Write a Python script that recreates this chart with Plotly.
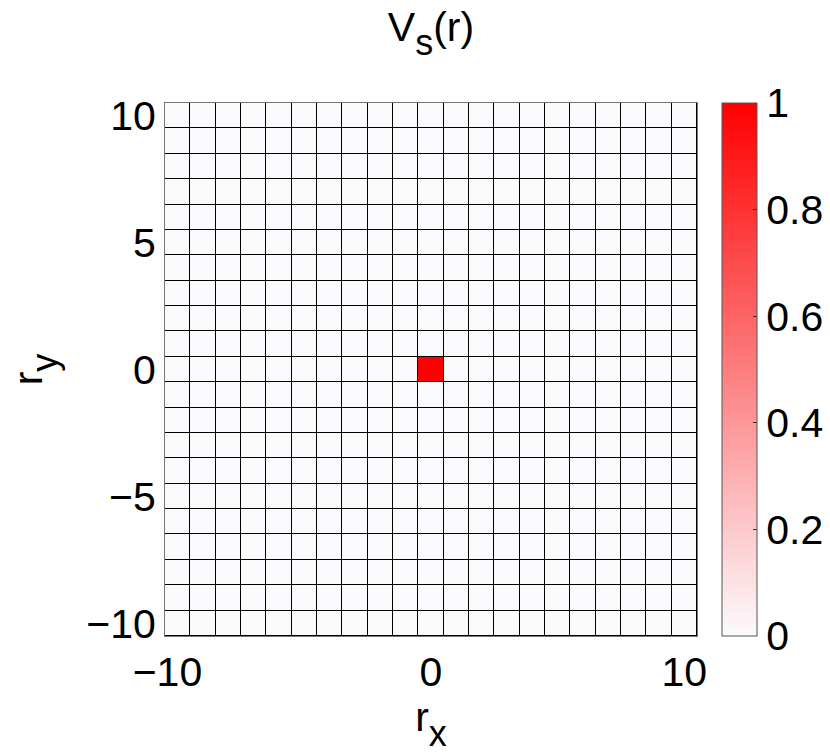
import plotly.graph_objects as go

# Data
rx = list(range(-10, 11))
ry = list(range(-10, 11))
peak_x, peak_y, peak_val = 0, 0, 1.0
Vs = [[peak_val if (x == peak_x and y == peak_y) else 0.0 for x in rx] for y in ry]
xticks = [-10, 0, 10]
yticks = [-10, -5, 0, 5, 10]
cticks = [0, 0.2, 0.4, 0.6, 0.8, 1]

FONT = "Liberation Sans, Arial, Helvetica, sans-serif"
FS = 41
SUB = "<sub><sub><span style='font-size:36px'>{}</span></sub></sub>"


def xlabel(v):
    # negative labels hang the minus sign to the left, as in the reference
    return ("\u2212" + str(-v) + "\u2002") if v < 0 else str(v)


fig = go.Figure(go.Heatmap(
    x=rx, y=ry, z=Vs,
    zmin=0, zmax=1,
    colorscale=[[0, "#FBFBFE"], [1, "#FF0000"]],
    xgap=1, ygap=1,
    colorbar=dict(
        x=1.047, xanchor="left", xref="paper",
        y=0.5, yanchor="middle",
        thickness=35, thicknessmode="pixels",
        len=533, lenmode="pixels",
        outlinecolor="#555555", outlinewidth=1,
        tickvals=cticks, ticktext=[f"{v:g}" for v in cticks],
        ticks="inside", ticklen=4, tickcolor="#333333",
        tickfont=dict(size=FS, family=FONT, color="black"),
        xpad=0, ypad=0,
    ),
    hoverinfo="skip",
))

fig.update_layout(
    width=830, height=754,
    margin=dict(l=165, r=133, t=103, b=118, autoexpand=False),
    paper_bgcolor="white",
    plot_bgcolor="black",
    font=dict(family=FONT, color="black"),
    title=dict(
        text="V" + SUB.format("s") + "(r)",
        x=0.5, xref="paper", xanchor="center",
        y=0.965, yanchor="middle",
        font=dict(size=FS, family=FONT, color="black"),
    ),
)

fig.update_xaxes(
    range=[-10.5, 10.5], automargin=False,
    tickvals=xticks, ticktext=[xlabel(v) for v in xticks],
    tickfont=dict(size=FS, family=FONT, color="black"),
    ticks="", showgrid=False, zeroline=False,
    showline=True, mirror=True, linecolor="#777777", linewidth=1,
    title=dict(text="r" + SUB.format("x"),
               font=dict(size=FS, family=FONT, color="black"), standoff=0),
)
fig.update_yaxes(
    range=[-10.5, 10.5], automargin=False,
    tickvals=yticks, ticktext=[("\u2212" + str(-v)) if v < 0 else str(v) for v in yticks],
    tickfont=dict(size=FS, family=FONT, color="black"),
    ticks="", showgrid=False, zeroline=False,
    showline=True, mirror=True, linecolor="#777777", linewidth=1,
    title=dict(text="r" + SUB.format("y"),
               font=dict(size=FS, family=FONT, color="black"), standoff=30),
)

fig.write_html("out.html", config={"displayModeBar": False},
               post_script="document.body.style.margin='0px';")
